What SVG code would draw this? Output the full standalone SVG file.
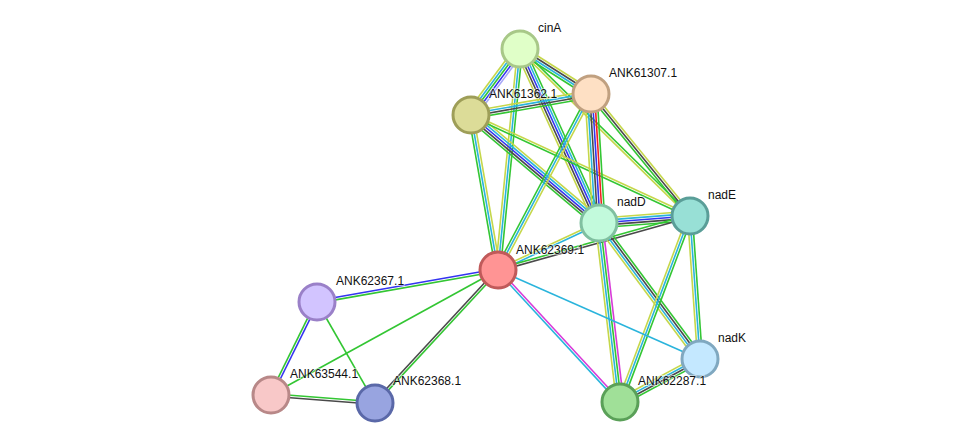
<svg xmlns="http://www.w3.org/2000/svg" width="976" height="448" viewBox="0 0 976 448">
<style>
line{stroke-width:1.6;fill:none}
.g{stroke:#33c633}.t{stroke:#c5d74a}.d{stroke:#2ab4dc}.k{stroke:#4a4a4a}.b{stroke:#3434f0}.r{stroke:#f02020}.m{stroke:#d83ad8}.h{stroke:#a8a8f8}
.node circle{stroke-width:3}
text{font-family:"Liberation Sans",Arial,sans-serif;font-size:12px;fill:#111;paint-order:stroke;stroke:#fff;stroke-width:2;stroke-opacity:0.5}
</style>
<rect width="976" height="448" fill="#fff"/>
<g id="edges">
<g transform="translate(520,49) rotate(126.6)"><line class="h" x2="82" y1="-4.8" y2="-4.8"/><line class="b" x2="82" y1="-2.4" y2="-2.4"/><line class="g" x2="82"/><line class="d" x2="82" y1="2.4" y2="2.4"/><line class="t" x2="82" y1="4.8" y2="4.8"/></g>
<g transform="translate(520,49) rotate(32.4)"><line class="t" x2="84" y1="-3.6" y2="-3.6"/><line class="k" x2="84" y1="-1.2" y2="-1.2"/><line class="d" x2="84" y1="1.2" y2="1.2"/><line class="g" x2="84" y1="3.6" y2="3.6"/></g>
<g transform="translate(520,49) rotate(65.6)"><line class="g" x2="191" y1="-4.8" y2="-4.8"/><line class="d" x2="191" y1="-2.4" y2="-2.4"/><line class="b" x2="191"/><line class="k" x2="191" y1="2.4" y2="2.4"/><line class="t" x2="191" y1="4.8" y2="4.8"/></g>
<g transform="translate(520,49) rotate(44.5)"><line class="g" x2="238" y1="-1.2" y2="-1.2"/><line class="t" x2="238" y1="1.2" y2="1.2"/></g>
<g transform="translate(520,49) rotate(95.7)"><line class="g" x2="222" y1="-2.4" y2="-2.4"/><line class="d" x2="222"/><line class="t" x2="222" y1="2.4" y2="2.4"/></g>
<g transform="translate(471,115) rotate(-9.9)"><line class="t" x2="122" y1="-3.6" y2="-3.6"/><line class="d" x2="122" y1="-1.2" y2="-1.2"/><line class="k" x2="122" y1="1.2" y2="1.2"/><line class="g" x2="122" y1="3.6" y2="3.6"/></g>
<g transform="translate(471,115) rotate(40.2)"><line class="t" x2="167" y1="-4.8" y2="-4.8"/><line class="d" x2="167" y1="-2.4" y2="-2.4"/><line class="b" x2="167"/><line class="k" x2="167" y1="2.4" y2="2.4"/><line class="g" x2="167" y1="4.8" y2="4.8"/></g>
<g transform="translate(471,115) rotate(24.8)"><line class="t" x2="241" y1="-1.2" y2="-1.2"/><line class="g" x2="241" y1="1.2" y2="1.2"/></g>
<g transform="translate(471,115) rotate(80.1)"><line class="t" x2="157" y1="-2.4" y2="-2.4"/><line class="d" x2="157"/><line class="g" x2="157" y1="2.4" y2="2.4"/></g>
<g transform="translate(591,94) rotate(86.5)"><line class="g" x2="129" y1="-6" y2="-6"/><line class="r" x2="129" y1="-3.6" y2="-3.6"/><line class="b" x2="129" y1="-1.2" y2="-1.2"/><line class="k" x2="129" y1="1.2" y2="1.2"/><line class="d" x2="129" y1="3.6" y2="3.6"/><line class="t" x2="129" y1="6" y2="6"/></g>
<g transform="translate(591,94) rotate(50.9)"><line class="t" x2="157" y1="-2.4" y2="-2.4"/><line class="k" x2="157"/><line class="g" x2="157" y1="2.4" y2="2.4"/></g>
<g transform="translate(591,94) rotate(117.9)"><line class="t" x2="199" y1="-2.4" y2="-2.4"/><line class="d" x2="199"/><line class="g" x2="199" y1="2.4" y2="2.4"/></g>
<g transform="translate(599,223) rotate(-4.4)"><line class="t" x2="91" y1="-4.8" y2="-4.8"/><line class="d" x2="91" y1="-2.4" y2="-2.4"/><line class="b" x2="91"/><line class="k" x2="91" y1="2.4" y2="2.4"/><line class="g" x2="91" y1="4.8" y2="4.8"/></g>
<g transform="translate(599,223) rotate(155)"><line class="d" x2="111" y1="-1.2" y2="-1.2"/><line class="t" x2="111" y1="1.2" y2="1.2"/></g>
<g transform="translate(690,216) rotate(164.3)"><line class="k" x2="199" y1="-1.2" y2="-1.2"/><line class="g" x2="199" y1="1.2" y2="1.2"/></g>
<g transform="translate(599,223) rotate(83.3)"><line class="m" x2="180" y1="-3.6" y2="-3.6"/><line class="g" x2="180" y1="-1.2" y2="-1.2"/><line class="d" x2="180" y1="1.2" y2="1.2"/><line class="t" x2="180" y1="3.6" y2="3.6"/></g>
<g transform="translate(599,223) rotate(53.4)"><line class="g" x2="169" y1="-3.6" y2="-3.6"/><line class="k" x2="169" y1="-1.2" y2="-1.2"/><line class="d" x2="169" y1="1.2" y2="1.2"/><line class="t" x2="169" y1="3.6" y2="3.6"/></g>
<g transform="translate(690,216) rotate(110.6)"><line class="g" x2="199" y1="-2.4" y2="-2.4"/><line class="d" x2="199"/><line class="t" x2="199" y1="2.4" y2="2.4"/></g>
<g transform="translate(690,216) rotate(86)"><line class="g" x2="143" y1="-2.4" y2="-2.4"/><line class="d" x2="143"/><line class="t" x2="143" y1="2.4" y2="2.4"/></g>
<g transform="translate(700,359) rotate(151.7)"><line class="g" x2="91" y1="-3.6" y2="-3.6"/><line class="k" x2="91" y1="-1.2" y2="-1.2"/><line class="d" x2="91" y1="1.2" y2="1.2"/><line class="t" x2="91" y1="3.6" y2="3.6"/></g>
<g transform="translate(498,270) rotate(23.8)"><line class="d" x2="221"/></g>
<g transform="translate(498,270) rotate(47.3)"><line class="m" x2="180" y1="-1.2" y2="-1.2"/><line class="d" x2="180" y1="1.2" y2="1.2"/></g>
<g transform="translate(498,270) rotate(170)"><line class="g" x2="184" y1="-1.2" y2="-1.2"/><line class="b" x2="184" y1="1.2" y2="1.2"/></g>
<g transform="translate(498,270) rotate(151.2)"><line class="g" x2="259"/></g>
<g transform="translate(498,270) rotate(132.8)"><line class="g" x2="181" y1="-1.2" y2="-1.2"/><line class="k" x2="181" y1="1.2" y2="1.2"/></g>
<g transform="translate(317,302) rotate(116.3)"><line class="b" x2="104" y1="-1.2" y2="-1.2"/><line class="g" x2="104" y1="1.2" y2="1.2"/></g>
<g transform="translate(317,302) rotate(60.1)"><line class="g" x2="116"/></g>
<g transform="translate(271,395) rotate(4.4)"><line class="g" x2="104" y1="-1.2" y2="-1.2"/><line class="k" x2="104" y1="1.2" y2="1.2"/></g>
</g>
<g id="cinA" class="node"><circle cx="520" cy="49" r="18" fill="#e0ffc8" stroke="#a8c888"/><text x="538" y="32">cinA</text></g>
<g id="ANK61307.1" class="node"><circle cx="591" cy="94" r="18" fill="#fee0c4" stroke="#c0a080"/><text x="609" y="77">ANK61307.1</text></g>
<g id="ANK61362.1" class="node"><circle cx="471" cy="115" r="18" fill="#dcdc98" stroke="#9e9e58"/><text x="489" y="98">ANK61362.1</text></g>
<g id="nadD" class="node"><circle cx="599" cy="223" r="18" fill="#c2fadc" stroke="#80c0a0"/><text x="617" y="206">nadD</text></g>
<g id="nadE" class="node"><circle cx="690" cy="216" r="18" fill="#98e0d6" stroke="#5a9e98"/><text x="708" y="199">nadE</text></g>
<g id="ANK62369.1" class="node"><circle cx="498" cy="270" r="18" fill="#ff9494" stroke="#c05a5a"/><text x="516" y="254">ANK62369.1</text></g>
<g id="ANK62367.1" class="node"><circle cx="317" cy="302" r="18" fill="#d2c4ff" stroke="#9a80c8"/><text x="336" y="285">ANK62367.1</text></g>
<g id="ANK63544.1" class="node"><circle cx="271" cy="395" r="18" fill="#f8c8c8" stroke="#b88888"/><text x="290" y="378">ANK63544.1</text></g>
<g id="ANK62368.1" class="node"><circle cx="375" cy="403" r="18" fill="#98a4e0" stroke="#5a68a8"/><text x="393" y="385">ANK62368.1</text></g>
<g id="nadK" class="node"><circle cx="700" cy="359" r="18" fill="#c4e8ff" stroke="#80a8c0"/><text x="718" y="342">nadK</text></g>
<g id="ANK62287.1" class="node"><circle cx="620" cy="402" r="18" fill="#a0e098" stroke="#5aa058"/><text x="638" y="385">ANK62287.1</text></g>
</svg>
